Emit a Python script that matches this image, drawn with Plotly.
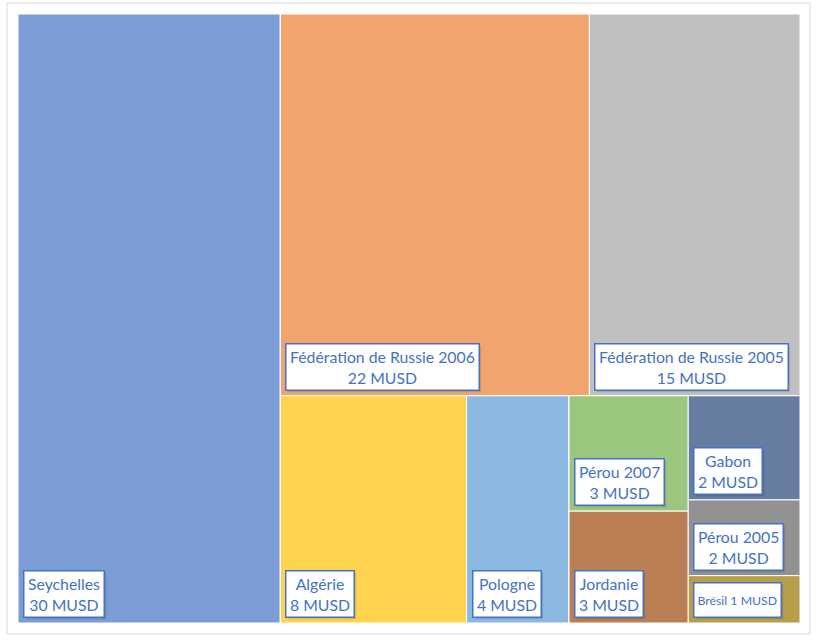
import plotly.graph_objects as go

# ---- data ----
countries = ["Seychelles", "Fédération de Russie 2006", "Fédération de Russie 2005",
             "Algérie", "Pologne", "Pérou 2007", "Jordanie", "Gabon", "Pérou 2005", "Brésil"]
amounts = [30.2, 22.3, 15.2, 8.0, 4.4, 2.6, 2.52, 2.2, 1.6, 1.0]   # MUSD
colors = ["#7C9CD6", "#F2A46F", "#C0C0C0", "#FFD34D", "#8CB9E2",
          "#9BC67E", "#BB7F56", "#677CA1", "#929292", "#B89D4D"]
unit = "MUSD"

# grouping that reproduces the tile arrangement of the original
country_group = ["", "top", "top", "bottom", "bottom", "colA", "colA", "colB", "colB", "colB"]
group_ids = ["rest", "top", "bottom", "colA", "colB"]
group_parents = ["", "rest", "rest", "bottom", "bottom"]
compact_labels = ["Brésil"]

ids = countries + group_ids
parents = country_group + group_parents
values = amounts + [0] * len(group_ids)
labels = countries + [""] * len(group_ids)
node_colors = colors + ["#FFFFFF"] * len(group_ids)

fig = go.Figure(go.Treemap(
    ids=ids, labels=labels, parents=parents, values=values,
    branchvalues="remainder", sort=False,
    marker=dict(colors=node_colors, line=dict(color="#FFFFFF", width=1),
                pad=dict(t=0, l=0, r=0, b=0)),
    tiling=dict(packing="slice-dice", pad=0),
    pathbar=dict(visible=False),
    textinfo="none", hoverinfo="label+value",
    maxdepth=-1,
))

# ---- label boxes placed at the bottom-left of each tile (same slice-dice split) ----
children = {}
val_of = dict(zip(ids, values))
for i, p in zip(ids, parents):
    children.setdefault(p, []).append(i)

def total(n):
    return val_of.get(n, 0) + sum(total(c) for c in children.get(n, []))

rects = {}
def split(node, x0, y0, x1, y1, depth):
    rects[node] = (x0, y0, x1, y1)
    kids = children.get(node, [])
    tot = sum(total(k) for k in kids)
    pos = x0 if depth % 2 == 0 else y0
    for k in kids:
        f = total(k) / tot
        if depth % 2 == 0:
            w = f * (x1 - x0)
            split(k, pos, y0, pos + w, y1, depth + 1)
            pos += w
        else:
            h = f * (y1 - y0)
            split(k, x0, pos, x1, pos + h, depth + 1)
            pos += h

split("", 0.0, 0.0, 1.0, 1.0, 0)

blue = "#4472C4"
for name, v in zip(countries, amounts):
    x0, y0, x1, y1 = rects[name]
    compact = name in compact_labels
    txt = f"{name} {v:.0f} {unit}" if compact else f"{name}<br>{v:.0f} {unit}"
    size = 12.3 if compact else 15.8
    common = dict(x=x0, y=1 - y1, xref="paper", yref="paper",
                  xanchor="left", yanchor="bottom", showarrow=False, align="center",
                  valign="middle",
                  borderpad=3 if compact else 3.5,
                  height=27 if compact else 38)
    # soft shadow
    fig.add_annotation(text=txt, font=dict(family="Lato", size=size, color="rgba(0,0,0,0)"),
                       bgcolor="rgba(0,0,0,0.12)", bordercolor="rgba(0,0,0,0)",
                       borderwidth=1.5, xshift=7, yshift=3, **common)
    fig.add_annotation(text=txt, font=dict(family="Lato", size=size, color=blue),
                       bgcolor="#FFFFFF", bordercolor=blue, borderwidth=1.5,
                       xshift=5, yshift=5, **common)

# light frame around the chart
fig.add_shape(type="rect", xref="paper", yref="paper",
              x0=-11 / 782, x1=792 / 782, y0=-11 / 609, y1=620 / 609,
              line=dict(color="#D9D9D9", width=1), fillcolor="rgba(0,0,0,0)", layer="below")

fig.update_layout(
    width=821, height=643,
    margin=dict(l=18, r=21, t=14, b=20),
    paper_bgcolor="#FFFFFF", plot_bgcolor="#FFFFFF",
    font=dict(family="Lato"),
    showlegend=False,
)

fig.write_html("out.html")
